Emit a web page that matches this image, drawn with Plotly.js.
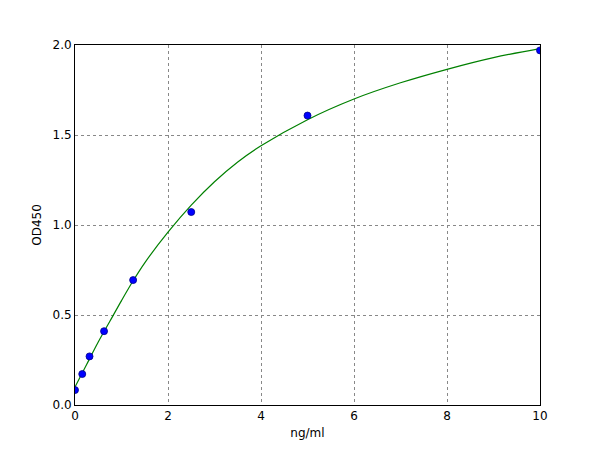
<!DOCTYPE html>
<html>
<head>
<meta charset="utf-8">
<script src="https://cdn.plot.ly/plotly-3.0.1.min.js"></script>
<style>
  html, body { margin: 0; padding: 0; background: #fff; }
  #graph { width: 600px; height: 450px; }
</style>
</head>
<body>
<div id="graph"></div>
<script>
// standard points
const concentrations = [0, 0.156, 0.3125, 0.625, 1.25, 2.5, 5, 10];
const odValues = [0.083, 0.172, 0.27, 0.41, 0.694, 1.072, 1.608, 1.97];

// fitted curve
const curveX = [0, 0.25, 0.5, 0.75, 1, 1.25, 1.5, 2, 2.5, 3, 3.5, 4, 5, 6, 7, 8, 9, 10];
const curveY = [0.10, 0.225, 0.35, 0.465, 0.58, 0.69, 0.79, 0.96, 1.11, 1.24, 1.35, 1.44, 1.585, 1.70, 1.79, 1.865, 1.93, 1.98];

const xTicks = [0, 2, 4, 6, 8, 10];
const yTicks = [0, 0.5, 1, 1.5, 2];
const yTickText = ["0.0", "0.5", "1.0", "1.5", "2.0"];

const data = [
  {
    x: curveX,
    y: curveY,
    mode: "lines",
    line: { color: "#008000", width: 1.2, shape: "spline", smoothing: 1 },
    hoverinfo: "skip"
  },
  {
    x: concentrations,
    y: odValues,
    mode: "markers",
    marker: { color: "#0000ff", size: 7, line: { color: "#00008b", width: 0.8 } }
  }
];

const axisStyle = {
  showline: true,
  linecolor: "#000",
  linewidth: 1,
  mirror: true,
  showgrid: true,
  gridcolor: "#888",
  griddash: "dot",
  gridwidth: 1,
  zeroline: false,
  ticks: "",
  tickfont: { family: "DejaVu Sans", size: 12, color: "#000" }
};

Plotly.newPlot("graph", data, {
  width: 600,
  height: 450,
  showlegend: false,
  paper_bgcolor: "#fff",
  plot_bgcolor: "#fff",
  margin: { l: 75, r: 60, t: 45, b: 45 },
  xaxis: Object.assign({}, axisStyle, {
    range: [0, 10],
    tickvals: xTicks,
    ticktext: xTicks.map(String),
    title: { text: "ng/ml", font: { family: "DejaVu Sans", size: 12, color: "#000" }, standoff: 6 }
  }),
  yaxis: Object.assign({}, axisStyle, {
    range: [0, 2],
    tickvals: yTicks,
    ticktext: yTickText,
    title: { text: "OD450", font: { family: "DejaVu Sans", size: 12, color: "#000" }, standoff: 8 }
  })
}, { displayModeBar: false, staticPlot: true });
</script>
</body>
</html>
